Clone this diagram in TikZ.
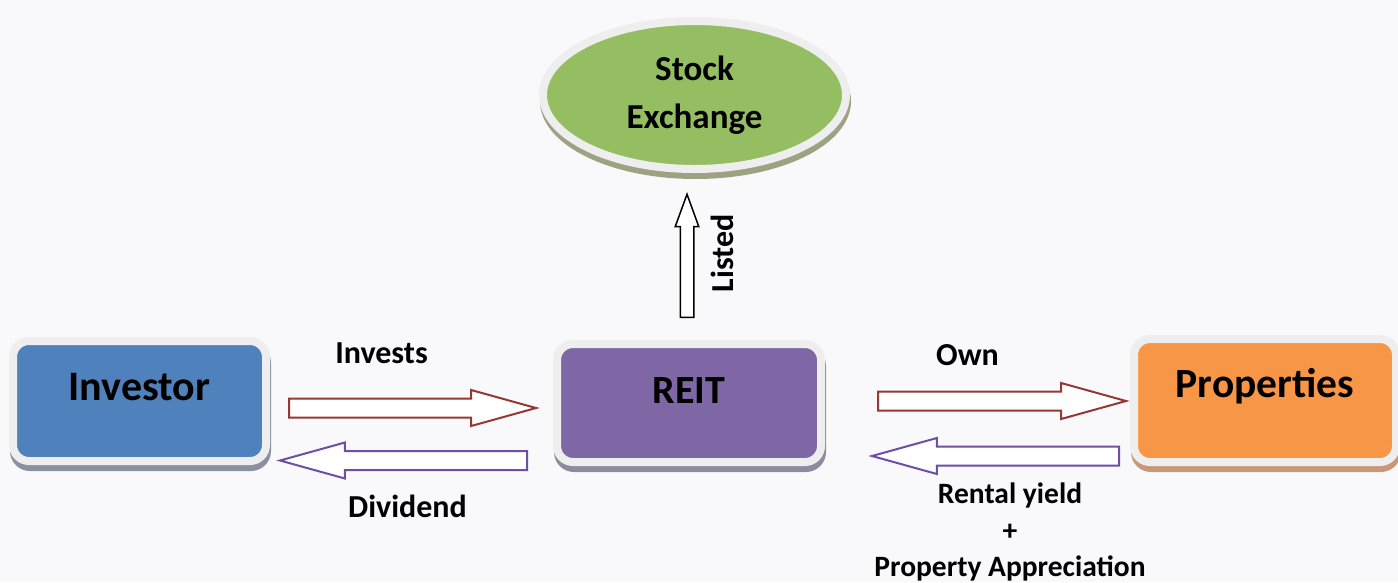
\documentclass[tikz,border=0pt]{standalone}
\usepackage{fontspec}
\setmainfont{Carlito}
\usetikzlibrary{shapes.geometric,shapes.arrows,shadows}

\definecolor{investorblue}{HTML}{4F81BD}
\definecolor{reitpurple}{HTML}{7F67A6}
\definecolor{propsorange}{HTML}{F79646}
\definecolor{stockgreen}{HTML}{95BE63}
\definecolor{rimgrey}{HTML}{EEEEEE}
\definecolor{bgwhite}{HTML}{F9F9FC}
\definecolor{shadeblue}{HTML}{8A909F}
\definecolor{shadepurple}{HTML}{918A9E}
\definecolor{shadeorange}{HTML}{C9987A}
\definecolor{shadegreen}{HTML}{9DA283}
\definecolor{arrowred}{HTML}{953735}
\definecolor{arrowpurple}{HTML}{6F4EA5}

\tikzset{
  box/.style={rectangle, rounded corners=16pt, draw=rimgrey, line width=8pt,
    inner sep=0pt, text height=26pt},
  oval/.style={ellipse, draw=rimgrey, line width=8pt, inner sep=0pt, align=center,
    fill=stockgreen, font=\bfseries\fontsize{35}{48}\selectfont,
    drop shadow={shadow xshift=1pt, shadow yshift=-6pt, fill=shadegreen, draw=shadegreen, opacity=1}},
  lbl/.style={inner sep=0pt, font=\bfseries\fontsize{32}{36.5}\selectfont},
  flowarrow/.style={single arrow, draw=#1, fill=white, line width=2pt, inner xsep=0pt, inner ysep=8.5pt,
    minimum width=34pt, single arrow head extend=8.5pt, single arrow tip angle=31, anchor=tail},
}

\begin{document}
\begin{tikzpicture}[x=1pt, y=-1pt]
  \useasboundingbox[fill=bgwhite] (0,0) rectangle (1398,582);

  % the three parties and the exchange
  \node[box, fill=investorblue, minimum width=253pt, minimum height=120pt, text depth=28pt,
    font=\bfseries\fontsize{42}{48}\selectfont,
    drop shadow={shadow xshift=1pt, shadow yshift=-6pt, fill=shadeblue, draw=shadeblue, opacity=1}]
    (investor) at (139.5,401) {Investor};
  \node[box, fill=reitpurple, minimum width=264pt, minimum height=118pt, text depth=26pt,
    font=\bfseries\fontsize{40}{48}\selectfont,
    drop shadow={shadow xshift=1pt, shadow yshift=-6pt, fill=shadepurple, draw=shadepurple, opacity=1}]
    (reit) at (689,403) {REIT};
  \node[box, fill=propsorange, minimum width=262pt, minimum height=123pt, text depth=33pt,
    font=\bfseries\fontsize{41.5}{48}\selectfont,
    drop shadow={shadow xshift=1pt, shadow yshift=-6pt, fill=shadeorange, draw=shadeorange, opacity=1}]
    (props) at (1265,400.5) {Properties};
  \node[oval, minimum width=303pt, minimum height=148pt] (exchange) at (694.5,95) {Stock\\Exchange};

  % block arrows, placed by their tails
  \node[flowarrow=arrowred, minimum height=247pt] (investarrow) at (288,408) {};
  \node[flowarrow=arrowpurple, minimum height=247pt, shape border rotate=180] (dividendarrow) at (528,460.5) {};
  \node[flowarrow=arrowred, minimum height=248pt] (ownarrow) at (877,401) {};
  \node[flowarrow=arrowpurple, minimum height=247pt, shape border rotate=180] (rentarrow) at (1120,456) {};
  \node[single arrow, draw=black, fill=white, line width=1.5pt, inner sep=6pt, minimum width=22pt,
    single arrow head extend=5pt, single arrow tip angle=40, minimum height=123pt,
    shape border rotate=90, anchor=tail] (listarrow) at (687,318) {};

  % labels
  \node[lbl, anchor=base] (investlbl) at (381.5,363) {Invests};
  \node[lbl, anchor=base] (dividendlbl) at (407.5,517) {Dividend};
  \node[lbl, anchor=base] (ownlbl) at (967.5,365) {Own};
  \node[lbl, rotate=90] (listlbl) at (722,253.5) {Listed};
  \node[lbl, align=center, anchor=north, font=\bfseries\fontsize{29.5}{36.5}\selectfont]
    (rentlbl) at (1010,483) {Rental yield\\+\\Property Appreciation};
\end{tikzpicture}
\end{document}
